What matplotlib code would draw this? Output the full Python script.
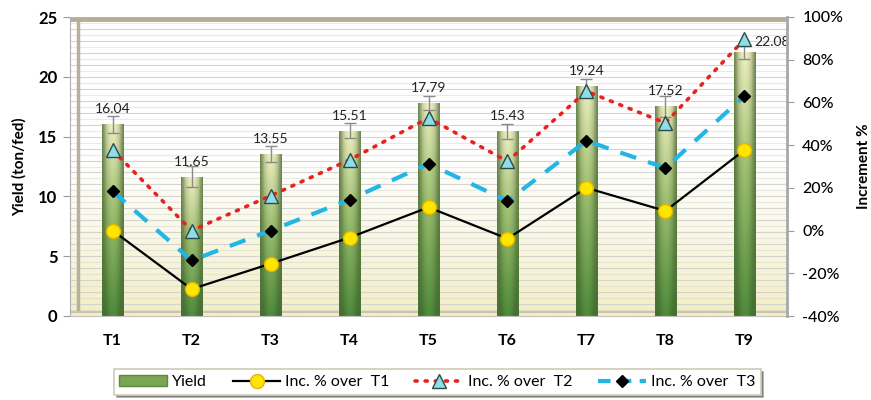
import numpy as np
import matplotlib
matplotlib.use("Agg")
import matplotlib.pyplot as plt
from matplotlib.lines import Line2D
from matplotlib.patches import Patch
from matplotlib.colors import to_rgb

plt.rcParams['font.family'] = ['Lato', 'DejaVu Sans']

# Treatments and yield (ton/fed)
treatments = ["T1", "T2", "T3", "T4", "T5", "T6", "T7", "T8", "T9"]
yield_vals = [16.04, 11.65, 13.55, 15.51, 17.79, 15.43, 19.24, 17.52, 22.08]
yield_err = [0.7, 0.9, 0.7, 0.6, 0.6, 0.6, 0.6, 0.9, 0.6]

# Increment (%) relative to T1, T2 and T3
inc_t1 = [0.0, -27.4, -15.5, -3.3, 10.9, -3.8, 20.0, 9.2, 37.7]
inc_t2 = [37.7, 0.0, 16.3, 33.1, 52.7, 32.4, 65.2, 50.4, 89.5]
inc_t3 = [18.4, -14.0, 0.0, 14.5, 31.3, 13.9, 42.0, 29.3, 63.0]

left_ticks = [0, 5, 10, 15, 20, 25]
right_ticks = [-40, -20, 0, 20, 40, 60, 80, 100]

fig = plt.figure(figsize=(8.71, 4.0), dpi=100)
ax = fig.add_axes([70 / 871, 1 - 316 / 400, 717 / 871, 299 / 400])
x = np.arange(len(treatments))
XL = (-0.54, 8.54)

# plot-area background: white at the top fading to pale yellow at the floor
bg = np.linspace(0, 1, 256)[:, None]          # row 0 = top
top_c = np.array(to_rgb("#ffffff"))
bot_c = np.array(to_rgb("#f3eec2"))
w = np.clip((bg - 0.45) / 0.55, 0, 1) ** 1.2
bg_img = (top_c * (1 - w) + bot_c * w)[:, None, :].repeat(2, axis=1)
ax.imshow(bg_img, extent=[XL[0], XL[1], 0, 25], aspect="auto", zorder=0,
          origin="upper")

# horizontal grid on the back wall
for g in np.arange(0.5, 25, 0.5):
    a = 0.9 if g % 1 == 0 else 0.45
    ax.axhline(g, color="#d0d0d0", lw=0.8, alpha=a, zorder=0.5)

# 3-D wall edges
ax.plot([-0.44, -0.44], [0.3, 24.8], color="#b8b09c", lw=2.5, zorder=0.6,
        solid_capstyle="butt")
ax.axhline(24.85, color="#b5ad98", lw=3.5, zorder=0.6)
ax.axhline(0.3, color="#c9c3b2", lw=1.5, zorder=0.6)

# cylinder-like bars
bars = ax.bar(x, yield_vals, width=0.27, color="#6f9a48", zorder=2,
              edgecolor="none")
nx, ny = 40, 200
hx = np.linspace(-1, 1, nx)
shade = 0.55 + 0.45 * np.cos(hx * np.pi / 2) ** 0.8
vy = np.linspace(0, 1, ny)  # 0 at top, 1 at bottom
pale = np.array(to_rgb("#eef0bf"))
mid = np.array(to_rgb("#9cc070"))
dark = np.array(to_rgb("#4f8a3a"))
edge_dark = np.array(to_rgb("#5c8a3c"))
base = np.empty((ny, 3))
for i, v in enumerate(vy):
    if v < 0.45:
        s = v / 0.45
        base[i] = pale * (1 - s) + mid * s
    else:
        s = (v - 0.45) / 0.55
        base[i] = mid * (1 - s) + dark * s
img = base[:, None, :] * shade[None, :, None]
ew = np.clip((np.abs(hx) - 0.6) / 0.4, 0, 1)[None, :, None]
img = np.clip(img * (1 - ew * 0.6) + edge_dark * ew * 0.6, 0, 1)
for b in bars:
    x0, h, bw = b.get_x(), b.get_height(), b.get_width()
    im = ax.imshow(img, extent=[x0, x0 + bw, 0, h], aspect="auto",
                   zorder=2.1, origin="upper")
    im.set_clip_path(b)
ax.set_xlim(*XL)
ax.set_ylim(0, 25)

ax.errorbar(x, yield_vals, yerr=yield_err, fmt="none", ecolor="#8a8a8a",
            elinewidth=1.0, capsize=4, capthick=1.0, zorder=2.5)

for i, (xi, v) in enumerate(zip(x, yield_vals)):
    if i == len(x) - 1:
        ax.text(xi + 0.12, v + 0.35, f"{v:.2f}", ha="left", va="bottom",
                fontsize=10, color="#222222", zorder=5)
    else:
        ax.text(xi, v + 0.75, f"{v:.2f}", ha="center", va="bottom",
                fontsize=10, color="#222222", zorder=5)

ax.set_xticks(x)
ax.set_xticklabels(treatments, fontsize=11.5, fontweight="bold")
ax.set_yticks(left_ticks)
ax.set_yticklabels([str(t) for t in left_ticks], fontsize=12, fontweight="bold")
ax.tick_params(axis="x", length=0, pad=13)
ax.tick_params(axis="y", length=5, color="#9a9a9a", pad=4)
ax.set_ylabel("Yield (ton/fed)", fontsize=11, fontweight="bold", labelpad=8)
for s in ["top", "right"]:
    ax.spines[s].set_visible(False)
ax.spines["left"].set_color("#b0b0b0")
ax.spines["bottom"].set_color("#c0c0c0")

# increment lines on the secondary axis
ax2 = ax.twinx()
ax2.set_ylim(-40, 100)
ax2.set_xlim(*XL)
ax2.plot(x, inc_t1, color="black", lw=1.6, marker="o", ms=10,
         mfc="#ffe600", mec="#e8b400", mew=1.0, zorder=4)
ax2.plot(x, inc_t2, color="#e8231f", lw=2.6, ls=(0, (0.6, 2.2)),
         dash_capstyle="round", marker="^", ms=10, mfc="#8fdde6",
         mec="#2b4a4a", mew=1.0, zorder=4)
ax2.plot(x, inc_t3, color="#21b6e6", lw=3.0, ls=(0, (4, 3)),
         marker="D", ms=6, mfc="black", mec="black", zorder=4)
ax2.set_yticks(right_ticks)
ax2.set_yticklabels([f"{t}%" for t in right_ticks], fontsize=11.5,
                    fontweight="medium")
ax2.tick_params(axis="y", length=5, color="#9a9a9a", pad=6)
ax2.set_ylabel("Increment %", fontsize=11, fontweight="bold", labelpad=10)
for s in ["top", "left", "bottom"]:
    ax2.spines[s].set_visible(False)
ax2.spines["right"].set_color("#a8a8a8")
ax2.spines["right"].set_linewidth(2)

handles = [
    Patch(facecolor="#7aa552", edgecolor="#5c8a3c", label="Yield"),
    Line2D([], [], color="black", lw=1.6, marker="o", ms=10, mfc="#ffe600",
           mec="#e8b400", label="Inc. % over  T1"),
    Line2D([], [], color="#e8231f", lw=2.6, ls=(0, (0.6, 2.2)),
           dash_capstyle="round", marker="^", ms=10, mfc="#8fdde6",
           mec="#2b4a4a", label="Inc. % over  T2"),
    Line2D([], [], color="#21b6e6", lw=3.0, ls=(0, (3, 2)), marker="D",
           ms=6, mfc="black", mec="black", label="Inc. % over  T3"),
]
leg = fig.legend(handles=handles, loc="center", bbox_to_anchor=(0.502, 0.045),
                 ncol=4, fontsize=11.5, frameon=True, fancybox=False,
                 shadow=True, handlelength=3.0, columnspacing=1.6,
                 handletextpad=0.3, borderpad=0.35)
leg.get_frame().set_edgecolor("#cfc9b6")
leg.get_frame().set_linewidth(1.2)

fig.savefig("out.png", dpi=100)
